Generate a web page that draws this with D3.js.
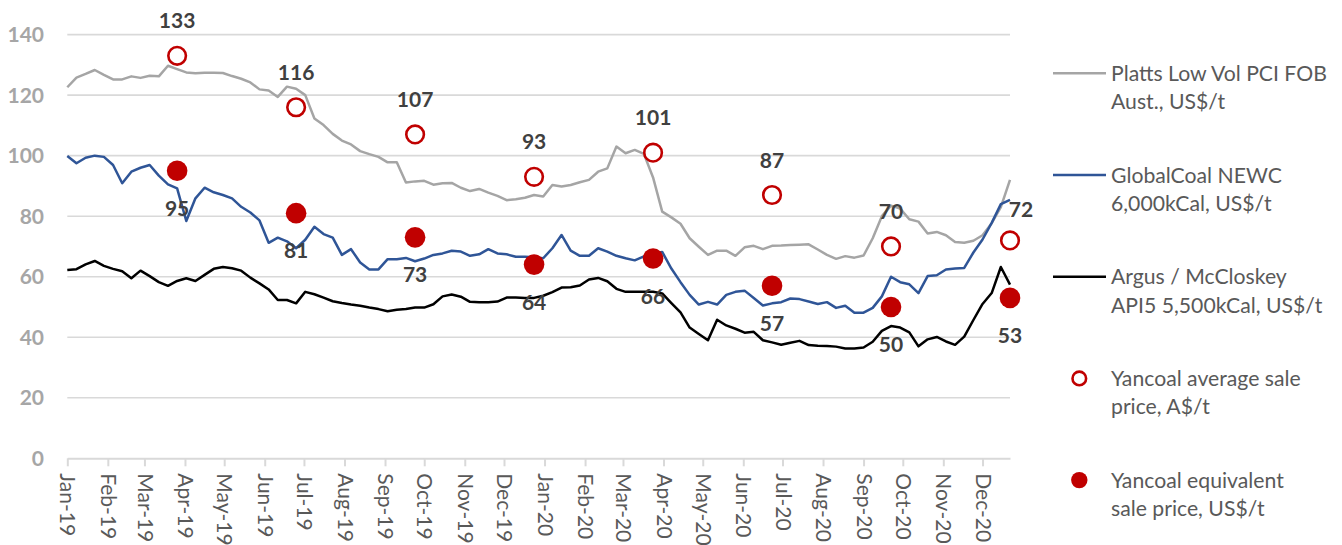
<!DOCTYPE html>
<html>
<head>
<meta charset="utf-8">
<script src="https://cdn.jsdelivr.net/npm/d3@7"></script>
<style>
  html, body { margin: 0; padding: 0; background: #fff; }
  svg { display: block; font-family: Lato, "Open Sans", sans-serif; }
</style>
</head>
<body>
<svg id="chart" width="1342" height="545"></svg>
<script>
// ---- Data (weekly series starting 1 Jan 2019) ----
const startDate = "2019-01-01";
const monthTickLabels = ["Jan-19","Feb-19","Mar-19","Apr-19","May-19","Jun-19","Jul-19","Aug-19","Sep-19","Oct-19","Nov-19","Dec-19",
                         "Jan-20","Feb-20","Mar-20","Apr-20","May-20","Jun-20","Jul-20","Aug-20","Sep-20","Oct-20","Nov-20","Dec-20"];
const yTicks = [0, 20, 40, 60, 80, 100, 120, 140];

const plattsPCI = [
  122.6,125.8,127,128.3,126.7,125.2,125.2,126.2,125.7,126.4,126.2,129.7,128.6,127.5,127.2,127.4,127.4,127.3,126.3,125.4,
  124.2,121.9,121.5,119.4,122.8,122.1,120,112.3,110.1,107.2,105,
  103.7,101.5,100.5,99.6,97.8,97.8,91.1,91.5,91.7,90.4,90.9,91,89.4,88.3,89,87.8,86.7,85.3,85.6,86.1,87,86.5,90.3,89.8,
  90.3,91.2,92,94.7,95.8,103,100.8,101.9,100.6,92.8,
  81.5,79.6,77.5,72.7,69.9,67.2,68.6,68.6,66.9,69.7,70.2,69.1,70.2,70.3,70.5,70.6,70.7,69,67.2,65.9,66.8,66.3,67,72.7,
  80,83.5,82.5,79,78.2,74.3,74.8,73.7,71.5,71.2,71.9,73.7,77.7,83,92
];
const globalCoalNEWC = [
  99.9,97.5,99.3,100,99.6,96.9,90.9,94.7,96,96.9,93.4,90.5,89.2,78.4,85.9,89.4,87.9,87,85.9,83.1,
  81.2,78.6,71.2,72.9,71.7,69.4,72.2,76.5,74.1,72.9,67.2,69.1,64.7,62.4,62.4,65.8,65.8,66.2,65.1,66,
  67.2,67.7,68.6,68.3,66.9,67.4,69.1,67.7,67.4,66.6,66.6,66.4,66.1,69.4,73.8,68.6,66.9,66.9,69.4,68.3,
  66.9,66.1,65.4,66.7,67.5,68.2,62.7,58.2,54,50.8,51.7,50.8,54,55,55.4,53,50.5,51.2,51.6,52.8,
  52.6,51.8,51,51.6,49.7,50.4,48.1,48.1,49.7,53.5,60,58.2,57.5,54.6,60.2,60.5,62.4,62.7,62.9,68,
  72.3,77.8,84,85.4
];
const argusAPI5 = [
  62.2,62.5,64.1,65.2,63.6,62.6,61.8,59.5,62,60.2,58.2,57,58.6,59.5,58.6,60.6,62.6,63.2,62.8,62,
  59.7,57.8,55.8,52.3,52.3,51.2,55,54.2,53.1,51.9,51.3,
  50.8,50.4,49.8,49.3,48.6,49.1,49.3,49.8,49.8,50.9,53.5,54.1,53.4,51.7,51.6,51.6,51.8,53.1,53.1,53,
  53,53.7,54.9,56.4,56.5,57.1,59.1,59.6,58.5,56,55,55,55,55,54.5,51.3,48.2,
  43.2,41.1,39,45.8,43.9,42.8,41.5,41.8,39,38.3,37.5,38.2,38.8,37.4,37.2,37.1,36.9,36.3,36.3,36.6,
  38.5,42.1,43.7,43.2,41.6,37,39.3,40.1,38.6,37.5,40.2,45.7,51,54.6,63.2,57.4
];

// Quarterly Yancoal prices (dated to the week they are plotted at)
const yancoalDates = ["2019-03-26","2019-06-25","2019-09-24","2019-12-24","2020-03-24","2020-06-23","2020-09-22","2020-12-22"];
const yancoalAvgAUD = [133, 116, 107, 93, 101, 87, 70, 72];
const yancoalEqUSD  = [95, 81, 73, 64, 66, 57, 50, 53];

const legendLabels = [
  ["Platts Low Vol PCI FOB", "Aust., US$/t"],
  ["GlobalCoal NEWC", "6,000kCal, US$/t"],
  ["Argus / McCloskey", "API5 5,500kCal, US$/t"],
  ["Yancoal average sale", "price, A$/t"],
  ["Yancoal equivalent", "sale price, US$/t"]
];

// ---- Build ----
const parse = d3.utcParse("%Y-%m-%d");
const t0 = parse(startDate);
const weekDates = plattsPCI.map((_, i) => d3.utcDay.offset(t0, 7 * i));

const svg = d3.select("#chart");
const plotLeft = 67.3, plotRight = 1010, plotTop = 34.6, plotBottom = 458.3;

const x = d3.scaleUtc().domain([weekDates[0], weekDates[weekDates.length - 1]]).range([plotLeft, plotRight]);
const y = d3.scaleLinear().domain([0, 140]).range([plotBottom, plotTop]);

const gridColor = "#d9d9d9";
const red = "#c00000";

// gridlines
svg.append("g").selectAll("line").data(yTicks.filter(d => d > 0)).join("line")
  .attr("x1", plotLeft).attr("x2", plotRight)
  .attr("y1", d => y(d)).attr("y2", d => y(d))
  .attr("stroke", gridColor).attr("stroke-width", 1.6);

// y axis labels
svg.append("g").selectAll("text").data(yTicks).join("text")
  .attr("x", 44).attr("y", d => y(d)).attr("dy", "0.36em")
  .attr("text-anchor", "end")
  .attr("font-weight", "bold").attr("font-size", 21)
  .attr("fill", "#a6a6a6")
  .text(d => d);

// x axis
const monthTicks = d3.utcMonth.range(d3.utcMonth.ceil(x.domain()[0]), x.domain()[1]);
const xAxis = d3.axisBottom(x).tickValues(monthTicks)
  .tickFormat((d, i) => monthTickLabels[i]).tickSize(8).tickSizeOuter(0);
const gx = svg.append("g").attr("transform", `translate(0,${plotBottom})`).call(xAxis);
gx.select(".domain").attr("stroke", gridColor).attr("stroke-width", 2);
gx.selectAll(".tick line").attr("stroke", gridColor).attr("stroke-width", 2);
gx.selectAll(".tick text")
  .attr("font-family", "Lato, 'Open Sans', sans-serif")
  .attr("font-size", 21).attr("fill", "#595959")
  .attr("transform", "rotate(90)")
  .attr("text-anchor", "start")
  .attr("x", 15).attr("y", 0).attr("dy", "0.35em");

// lines
const series = [
  { values: plattsPCI, color: "#a5a5a5" },
  { values: globalCoalNEWC, color: "#2f5597" },
  { values: argusAPI5, color: "#000000" }
];
const line = d3.line().x((d, i) => x(weekDates[i])).y(d => y(d));
svg.append("g").selectAll("path").data(series).join("path")
  .attr("d", s => line(s.values))
  .attr("fill", "none").attr("stroke", s => s.color)
  .attr("stroke-width", 2.5).attr("stroke-linejoin", "round");

// scatter
const qDates = yancoalDates.map(parse);
svg.append("g").selectAll("circle").data(yancoalAvgAUD).join("circle")
  .attr("cx", (d, i) => x(qDates[i])).attr("cy", d => y(d)).attr("r", 8.8)
  .attr("fill", "#fff").attr("stroke", red).attr("stroke-width", 2.6);
svg.append("g").selectAll("circle").data(yancoalEqUSD).join("circle")
  .attr("cx", (d, i) => x(qDates[i])).attr("cy", d => y(d)).attr("r", 10.3)
  .attr("fill", red);

// data labels
const lblStyle = sel => sel.attr("font-weight", "bold").attr("font-size", 21)
  .attr("fill", "#404040").attr("text-anchor", "middle");
svg.append("g").selectAll("text").data(yancoalAvgAUD).join("text")
  .attr("x", (d, i) => x(qDates[i]) + (i === yancoalAvgAUD.length - 1 ? 11 : 0))
  .attr("y", (d, i) => y(d) - (i === yancoalAvgAUD.length - 1 ? 23.5 : 27.5))
  .call(lblStyle).text(d => d);
svg.append("g").selectAll("text").data(yancoalEqUSD).join("text")
  .attr("x", (d, i) => x(qDates[i]))
  .attr("y", d => y(d) + 45)
  .call(lblStyle).text(d => d);

// legend
const legY0 = 73.3, legStep = 101.7;
const lg = svg.append("g");
legendLabels.forEach((lbl, i) => {
  const cy = legY0 + i * legStep;
  if (i < 3) {
    lg.append("line").attr("x1", 1053).attr("x2", 1106).attr("y1", cy).attr("y2", cy)
      .attr("stroke", series[i].color).attr("stroke-width", 2.5);
  } else if (i === 3) {
    lg.append("circle").attr("cx", 1079.3).attr("cy", cy).attr("r", 6.8)
      .attr("fill", "#fff").attr("stroke", red).attr("stroke-width", 2.6);
  } else {
    lg.append("circle").attr("cx", 1079.3).attr("cy", cy).attr("r", 8.2).attr("fill", red);
  }
  lbl.forEach((t, j) => {
    lg.append("text").attr("x", 1111).attr("y", cy + 7.5 + j * 28.5)
      .attr("font-size", 21.2).attr("fill", "#595959").text(t);
  });
});
</script>
</body>
</html>
